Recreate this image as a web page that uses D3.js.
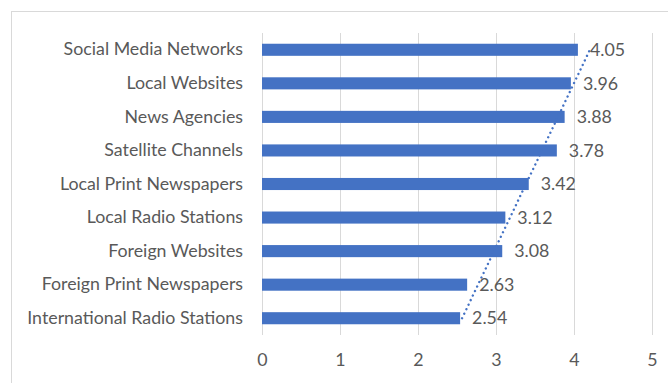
<!DOCTYPE html>
<html>
<head>
<meta charset="utf-8">
<script src="https://cdn.jsdelivr.net/npm/d3@7"></script>
<style>
  html, body { margin: 0; padding: 0; background: #fff; }
  svg { display: block; }
  text { font-family: Lato, "Open Sans", sans-serif; fill: #595959; }
</style>
</head>
<body>
<svg id="chart" width="668" height="383"></svg>
<script>
// Media sources, top to bottom, with their mean ratings
const categories = [
  "Social Media Networks",
  "Local Websites",
  "News Agencies",
  "Satellite Channels",
  "Local Print Newspapers",
  "Local Radio Stations",
  "Foreign Websites",
  "Foreign Print Newspapers",
  "International Radio Stations"
];
const values = [4.05, 3.96, 3.88, 3.78, 3.42, 3.12, 3.08, 2.63, 2.54];
const xTicks = [0, 1, 2, 3, 4, 5];

const svg = d3.select("#chart");
const fontSize = 17.8;

// outer frame (runs off the right and bottom edges)
svg.append("rect")
  .attr("x", 11.5).attr("y", 11.5)
  .attr("width", 700).attr("height", 400)
  .attr("fill", "none").attr("stroke", "#d9d9d9").attr("stroke-width", 1);

const x = d3.scaleLinear().domain([0, 5]).range([262, 652]);
const y = d3.scaleBand().domain(categories).range([33, 335]).paddingInner(0.64).paddingOuter(0.32);

// vertical gridlines
svg.append("g").selectAll("line").data(xTicks).join("line")
  .attr("x1", d => Math.round(x(d)) + 0.5).attr("x2", d => Math.round(x(d)) + 0.5)
  .attr("y1", 33).attr("y2", 335)
  .attr("stroke", "#d9d9d9").attr("stroke-width", 1);

// x axis tick labels
const xAxis = d3.axisBottom(x).tickValues(xTicks).tickSize(0).tickPadding(0).tickFormat(d3.format("d"));
const gx = svg.append("g").attr("transform", "translate(0,353)").call(xAxis);
gx.select(".domain").remove();
gx.selectAll("text").attr("font-size", fontSize).attr("dy", "0.71em").attr("fill", "#595959")
  .style("font-family", "Lato, 'Open Sans', sans-serif");

// category labels
const yAxis = d3.axisLeft(y).tickSize(0).tickPadding(19);
const gy = svg.append("g").attr("transform", "translate(262,0)").call(yAxis);
gy.select(".domain").remove();
gy.selectAll("text").attr("font-size", fontSize).attr("fill", "#595959")
  .style("font-family", "Lato, 'Open Sans', sans-serif");

// bars
svg.append("g").selectAll("rect").data(values).join("rect")
  .attr("x", x(0))
  .attr("y", (d, i) => y(categories[i]))
  .attr("width", d => x(d) - x(0))
  .attr("height", y.bandwidth())
  .attr("fill", "#4472C4");

// linear trend across category positions (bottom category = 1)
const n = values.length;
const pts = values.map((v, i) => ({ k: n - i, v }));
const mk = d3.mean(pts, p => p.k), mv = d3.mean(pts, p => p.v);
const slope = d3.sum(pts, p => (p.k - mk) * (p.v - mv)) / d3.sum(pts, p => (p.k - mk) ** 2);
const icpt = mv - slope * mk;
const trend = [categories[n - 1], categories[0]].map(c => {
  const k = n - categories.indexOf(c);
  return [x(icpt + slope * k), y(c) + y.bandwidth() / 2];
});
svg.append("path")
  .attr("d", d3.line()(trend))
  .attr("fill", "none")
  .attr("stroke", "#4472C4")
  .attr("stroke-width", 2.4)
  .attr("stroke-linecap", "round")
  .attr("stroke-dasharray", "0.01 5");

// value labels
svg.append("g").selectAll("text").data(values).join("text")
  .attr("x", d => x(d) + 12)
  .attr("y", (d, i) => y(categories[i]) + y.bandwidth() / 2)
  .attr("dy", "0.35em")
  .attr("font-size", fontSize)
  .text(d => d.toFixed(2));
</script>
</body>
</html>
